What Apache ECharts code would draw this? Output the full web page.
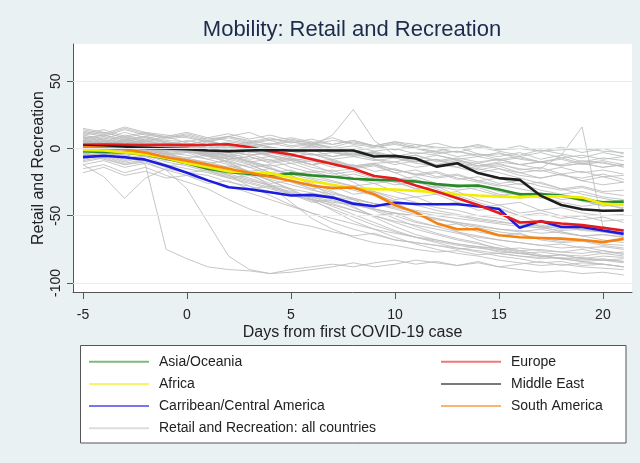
<!DOCTYPE html>
<html>
<head>
<meta charset="utf-8">
<script src="https://cdn.jsdelivr.net/npm/echarts@6/dist/echarts.min.js"></script>
<style>
html,body{margin:0;padding:0;background:#eaf1f3;}
#c{width:640px;height:463px;}
</style>
</head>
<body>
<div id="c"></div>
<script>
var days = [-5,-4,-3,-2,-1,0,1,2,3,4,5,6,7,8,9,10,11,12,13,14,15,16,17,18,19,20,21];
var xTicks = [-5,0,5,10,15,20];
var yTicks = [-100,-50,0,50];

var asiaOceania = [-2,-2.5,-3,-4.5,-7.5,-11,-15,-17.5,-19,-20.5,-18.5,-20,-21,-22.5,-23.3,-23.5,-24.5,-26.5,-27.8,-27.5,-30.5,-34,-33.8,-35,-38,-40,-39.5];
var africa = [-1,-1.5,-3,-4.5,-7,-11,-14,-17,-17.8,-18.5,-21.5,-24.5,-27,-29.5,-30.2,-30.5,-31.5,-32.5,-34,-35,-35.8,-36.2,-35.5,-35.5,-36.5,-41,-42];
var caribbean = [-6.4,-5.4,-6.5,-8.3,-12.8,-18,-23.7,-28.8,-30.3,-32.5,-35,-34.5,-36.5,-41,-43,-40.3,-41.3,-41.4,-41.5,-43,-45,-59,-54,-58.4,-58.3,-61,-63.5];
var europe = [2.7,3,2.8,2.5,2.8,2.5,2.8,3.2,1,-2,-4.5,-8,-11.5,-15,-20.5,-22.3,-27.5,-32,-37,-42,-48,-55,-54.3,-55.8,-57,-59,-61];
var middleEast = [2,1.5,1,0.5,0,-0.5,-1.5,-2,-1.5,-1,-1.5,-1.5,-1.5,-1.5,-6,-5.5,-7.5,-13.5,-11,-18.3,-22,-23.3,-35,-42,-45.2,-46.3,-46.1];
var southAmerica = [1,0.5,-0.5,-3,-6.5,-9,-12,-15,-18,-21,-24,-27.5,-29.5,-29,-34,-42,-47.5,-55.5,-60,-60,-64.5,-66,-66.5,-67,-68,-69.6,-67.2];

var g01 = [8,10,7,9,6,5,8,6,4,7,5,3,6,4,2,5,3,1,0,2,-1,0,-2,-1,0,-2,-3];
var g02 = [12,9,14,10,8,11,7,9,12,6,8,5,3,6,2,-1,1,-3,-2,-5,-4,-6,-3,-7,-5,-8,-6];
var g03 = [15,12,8,5,9,4,2,5,3,0,-2,1,-3,-5,-2,-6,-8,-5,-9,-11,-8,-12,-10,-13,-11,-14,-12];
var g04 = [3,5,2,4,1,3,0,2,-1,1,-2,0,-3,-1,-4,-6,-3,-5,-8,-6,-9,-7,-10,-12,-9,-11,-13];
var g05 = [-2,0,-1,2,-3,-1,-4,-2,-5,-3,-6,-4,-8,-6,-9,-7,-11,-13,-10,-14,-12,-15,-17,-14,-18,-16,-19];
var g06 = [6,3,5,2,0,4,1,-1,2,4,1,3,0,-2,1,3,0,-4,-2,-6,-3,-8,-10,-7,-11,-9,-12];
var g07 = [4,2,5,1,3,0,2,-1,1,3,5,2,10,29,6,-5,-10,-8,-14,-18,-15,-20,-22,-19,-24,-21,-25];
var g08 = [-5,-3,-6,-2,-4,-7,-5,-8,-6,-10,-8,-12,-9,-13,-11,-10,-14,-12,-9,-13,-10,-12,-15,-5,16,-58,-62];
var g09 = [0,-2,-5,-12,-75,-82,-88,-90,-91,-93,-90,-88,-86,-88,-85,-83,-86,-84,-87,-85,-88,-86,-84,-87,-85,-86,-88];
var g10 = [-12,-21,-37,-22,-15,-18,-20,-25,-28,-32,-35,-38,-40,-42,-45,-48,-50,-52,-55,-58,-60,-62,-60,-63,-65,-64,-66];
var g11 = [5,8,4,6,2,0,-3,-6,-10,-15,-20,-26,-32,-38,-45,-50,-55,-58,-62,-65,-68,-70,-72,-71,-74,-73,-75];
var g12 = [2,0,3,-1,1,-2,-5,-8,-12,-18,-25,-30,-36,-40,-46,-52,-58,-63,-67,-70,-75,-78,-80,-79,-82,-83,-84];
var g13 = [10,7,12,8,5,3,6,2,-2,-5,-8,-12,-10,-15,-20,-25,-30,-28,-35,-40,-45,-50,-55,-58,-60,-62,-65];
var g14 = [-8,-5,-10,-6,-12,-15,-18,-22,-26,-30,-34,-38,-42,-46,-50,-54,-57,-60,-63,-66,-68,-70,-72,-74,-73,-76,-78];
var g15 = [0,3,-2,1,-4,-8,-14,-20,-28,-35,-42,-48,-55,-60,-64,-68,-70,-72,-74,-76,-78,-80,-82,-81,-83,-82,-84];
var g16 = [7,4,9,5,2,6,3,0,4,1,-2,2,-1,-4,-3,-7,-5,-10,-8,-13,-11,-16,-14,-19,-17,-21,-20];
var g17 = [-4,-1,-5,-2,-6,-9,-12,-15,-19,-23,-27,-31,-34,-37,-41,-44,-47,-50,-52,-54,-56,-58,-59,-61,-60,-62,-63];
var g18 = [1,4,0,3,-1,-3,-2,-6,-4,-9,-7,-12,-10,-15,-13,-18,-16,-21,-19,-24,-22,-27,-25,-30,-28,-32,-31];
var g19 = [-10,-7,-12,-9,-14,-18,-16,-22,-20,-26,-24,-30,-28,-34,-32,-38,-36,-42,-40,-46,-44,-50,-48,-52,-50,-54,-53];
var g20 = [4,1,6,2,-1,3,0,-3,-1,-5,-8,-12,-18,-25,-33,-40,-48,-55,-62,-68,-72,-76,-79,-82,-84,-86,-88];
var g21 = [9,6,3,7,4,1,5,2,-2,1,-4,-1,-6,-3,-8,-12,-9,-14,-11,-16,-13,-18,-22,-19,-24,-27,-25];
var g22 = [-15,-12,-18,-14,-20,-25,-30,-38,-45,-50,-55,-58,-62,-65,-63,-68,-70,-72,-75,-73,-77,-78,-80,-82,-81,-83,-82];
var g23 = [2,5,1,4,0,-2,-5,-3,-8,-6,-11,-9,-14,-12,-17,-15,-20,-18,-23,-21,-26,-24,-28,-31,-29,-33,-35];
var g24 = [-6,-3,-8,-4,-9,-7,-11,-9,-14,-12,-17,-20,-24,-28,-32,-36,-40,-44,-46,-50,-52,-55,-57,-60,-58,-61,-62];
var g25 = [11,14,9,12,8,10,6,9,5,8,4,7,3,6,2,5,1,4,0,3,-1,2,-2,1,-3,0,-4];
var g26 = [-1,2,-3,0,-5,-3,-8,-12,-18,-24,-30,-38,-46,-54,-60,-66,-71,-75,-78,-80,-83,-85,-87,-86,-88,-89,-90];
var g27 = [5,2,7,3,0,-2,-6,-4,-10,-8,-14,-18,-16,-22,-26,-24,-30,-34,-32,-38,-42,-40,-46,-44,-48,-50,-49];
var g28 = [-3,0,-4,-1,-5,-8,-10,-14,-12,-18,-16,-22,-25,-28,-26,-32,-36,-34,-40,-44,-42,-48,-46,-50,-53,-51,-55];
var g29 = [8,5,10,6,3,1,-4,-10,-18,-28,-40,-52,-60,-66,-70,-72,-75,-77,-76,-79,-78,-80,-81,-79,-82,-80,-81];
var g30 = [0,-3,1,-2,2,-1,-4,-8,-6,-11,-9,-14,-17,-15,-20,-23,-21,-26,-29,-27,-32,-35,-33,-38,-36,-40,-39];
var g31 = [6,9,5,8,4,2,0,-2,0,-3,-1,-4,-6,-4,-8,-10,-7,-12,-14,-11,-15,-18,-16,-20,-22,-19,-23];
var g32 = [-5,-8,-12,-10,-16,-30,-55,-80,-90,-93,-92,-90,-88,-85,-88,-86,-83,-85,-87,-84,-88,-90,-92,-91,-93,-92,-94];
var g33 = [-18,-14,-20,-17,-22,-20,-26,-24,-30,-28,-34,-40,-38,-44,-50,-48,-54,-58,-56,-62,-65,-63,-68,-70,-69,-72,-74];
var g34 = [3,6,2,0,4,1,-2,1,-3,-1,-6,-4,-9,-14,-12,-18,-24,-30,-36,-42,-48,-54,-58,-62,-65,-68,-70];
var g35 = [-7,-4,-9,-5,-10,-13,-17,-21,-25,-29,-33,-36,-39,-42,-45,-48,-50,-53,-55,-57,-60,-61,-63,-62,-65,-64,-66];
var g36 = [13,10,15,11,9,12,8,11,7,10,6,4,8,3,1,4,0,-2,1,-4,-6,-3,-8,-5,-10,-7,-9];
var g37 = [-2,1,-3,0,-4,-2,-6,-10,-14,-19,-24,-28,-33,-37,-41,-45,-49,-52,-56,-59,-62,-64,-67,-69,-68,-71,-72];
var g38 = [4,7,3,6,2,-1,-5,-11,-17,-24,-31,-37,-43,-49,-55,-61,-66,-70,-74,-77,-80,-82,-85,-84,-87,-86,-88];
var g39 = [-9,-6,-11,-8,-13,-11,-15,-13,-17,-15,-19,-17,-21,-19,-23,-27,-25,-29,-27,-31,-35,-33,-37,-35,-39,-43,-41];
var g40 = [1,-1,2,0,-2,1,-1,-3,-1,-4,-2,-5,-3,-6,-4,-7,-5,-9,-7,-10,-8,-12,-10,-13,-11,-14,-12];
var g41 = [10,12,8,11,7,9,5,8,4,6,2,4,0,2,-2,0,-4,-2,-6,-4,-8,-6,-10,-8,-12,-10,-14];
var g42 = [-4,-7,-3,-6,-8,-12,-16,-20,-24,-27,-30,-33,-36,-38,-41,-43,-46,-48,-50,-53,-55,-56,-58,-57,-60,-59,-61];
var g43 = [6,3,7,4,1,-1,-4,-7,-11,-15,-19,-23,-27,-31,-35,-39,-42,-46,-49,-52,-54,-57,-59,-58,-61,-62,-63];
var g44 = [-1,-4,0,-3,-6,-9,-13,-17,-22,-27,-33,-39,-45,-51,-57,-62,-66,-69,-72,-74,-76,-78,-77,-79,-80,-78,-80];
var g45 = [14,11,16,12,10,8,5,9,6,3,7,4,1,5,2,-1,3,0,-3,1,-2,-5,-1,-4,-7,-3,-6];
var g46 = [2,-1,3,0,-3,-5,-8,-6,-10,-13,-11,-16,-19,-17,-22,-25,-23,-28,-31,-29,-34,-37,-35,-40,-43,-41,-45];
var g47 = [-12,-9,-14,-11,-16,-20,-24,-28,-33,-38,-43,-48,-52,-56,-60,-63,-66,-68,-71,-73,-74,-76,-75,-77,-78,-76,-79];
var g48 = [3,0,4,1,-2,0,-3,-1,-5,-3,-7,-10,-8,-13,-11,-16,-19,-17,-22,-25,-28,-26,-31,-34,-32,-36,-38];
var g49 = [7,10,6,9,5,3,6,2,5,1,-1,2,-2,-5,-3,-7,-10,-8,-12,-15,-18,-22,-26,-30,-34,-37,-40];
var g50 = [-3,-6,-2,-5,-8,-11,-15,-19,-23,-28,-32,-36,-41,-46,-50,-55,-60,-64,-68,-71,-74,-77,-80,-82,-84,-83,-85];
var g51 = [0,2,-1,1,-2,0,-3,-5,-2,-6,-9,-7,-11,-14,-12,-16,-19,-22,-20,-24,-27,-30,-33,-36,-39,-42,-44];
var g52 = [5,3,6,4,2,0,-2,-5,-9,-14,-20,-27,-35,-43,-51,-58,-64,-68,-71,-73,-75,-74,-76,-77,-75,-78,-77];

var grayLines = [g01,g02,g03,g04,g05,g06,g07,g08,g09,g10,g11,g12,g13,g14,g15,g16,g17,g18,g19,g20,
                 g21,g22,g23,g24,g25,g26,g27,g28,g29,g30,g31,g32,g33,g34,g35,g36,g37,g38,g39,g40,
                 g41,g42,g43,g44,g45,g46,g47,g48,g49,g50,g51,g52];

var regions = [
  {name:'Asia/Oceania', values: asiaOceania, color:'#2a8a2a'},
  {name:'Africa', values: africa, color:'#f2ee00'},
  {name:'Carribean/Central America', values: caribbean, color:'#1c1ce0'},
  {name:'Europe', values: europe, color:'#e41c1c'},
  {name:'Middle East', values: middleEast, color:'#1e1e1e'},
  {name:'South America', values: southAmerica, color:'#f58212'}
];
var allName = 'Retail and Recreation: all countries';

function pairs(vals){ return days.map(function(d,i){ return [d, vals[i]]; }); }

var FONT = 'Liberation Sans, Arial, sans-serif';
var series = [];
series.push({
  type:'line', name:'_grid', data:[], z:1, silent:true,
  markLine:{ silent:true, symbol:['none','none'], label:{show:false},
    lineStyle:{color:'#e6edf0', width:1, type:'solid'},
    data: yTicks.map(function(v){ return {yAxis:v}; }) }
});
grayLines.forEach(function(g){
  series.push({type:'line', name:allName, data:pairs(g), symbol:'none', z:2, silent:true,
    lineStyle:{color:'#bcbcbc', width:1, opacity:0.85}, itemStyle:{color:'#bcbcbc'}});
});
regions.forEach(function(r){
  series.push({type:'line', name:r.name, data:pairs(r.values), symbol:'none', z:3,
    lineStyle:{color:r.color, width:2.6}, itemStyle:{color:r.color}});
});

var legendCommon = {
  orient:'vertical', padding:0, itemWidth:60, itemHeight:14, itemGap:8.2,
  selectedMode:false, z:5,
  lineStyle:{width:2, opacity:0.6},
  itemStyle:{opacity:0, color:'rgba(0,0,0,0)', borderWidth:0},
  textStyle:{fontFamily:FONT, fontSize:14, color:'#222', lineHeight:14, padding:[0,0,0,5]}
};

var chart = echarts.init(document.getElementById('c'), null, {renderer:'canvas'});
chart.setOption({
  backgroundColor:'#eaf1f3',
  animation:false,
  title:{text:'Mobility: Retail and Recreation', left:352, top:19, padding:0, textAlign:'center',
    textStyle:{fontFamily:FONT, fontSize:22, fontWeight:'normal', color:'#1b2b4b'}},
  grid:{left:73, top:44, right:8, bottom:171, show:true, backgroundColor:'#ffffff', borderWidth:0},
  graphic:[{type:'rect', z:1, shape:{x:80.5, y:345.5, width:545.5, height:97.5},
    style:{fill:'#ffffff', stroke:'#555555', lineWidth:1}}],
  legend:[
    Object.assign({left:88, top:354.7,
      data:['Asia/Oceania','Africa','Carribean/Central America',
        {name:allName, lineStyle:{color:'#dddddd', opacity:1}}]}, legendCommon),
    Object.assign({left:440, top:354.7, data:['Europe','Middle East','South America']}, legendCommon)
  ],
  xAxis:{type:'value', min:-5.48, max:21.4,
    name:'Days from first COVID-19 case', nameLocation:'middle', nameGap:33, nameMoveOverlap:false,
    nameTextStyle:{fontFamily:FONT, fontSize:16, color:'#222'},
    axisLine:{show:true, onZero:false, lineStyle:{color:'#555', width:1}},
    axisTick:{show:true, length:7, lineStyle:{color:'#555'}, customValues:xTicks},
    axisLabel:{fontFamily:FONT, fontSize:14, color:'#222', margin:16, customValues:xTicks},
    splitLine:{show:false}},
  yAxis:{type:'value', min:-106.7, max:77.7,
    name:'Retail and Recreation', nameLocation:'middle', nameGap:26.5, nameMoveOverlap:false,
    nameTextStyle:{fontFamily:FONT, fontSize:16, color:'#222'},
    axisLine:{show:true, onZero:false, lineStyle:{color:'#555', width:1}},
    axisTick:{show:true, length:6, lineStyle:{color:'#555'}, customValues:yTicks},
    axisLabel:{fontFamily:FONT, fontSize:14, color:'#222', margin:10, rotate:90, customValues:yTicks},
    splitLine:{show:false}},
  series:series
});
</script>
</body>
</html>
